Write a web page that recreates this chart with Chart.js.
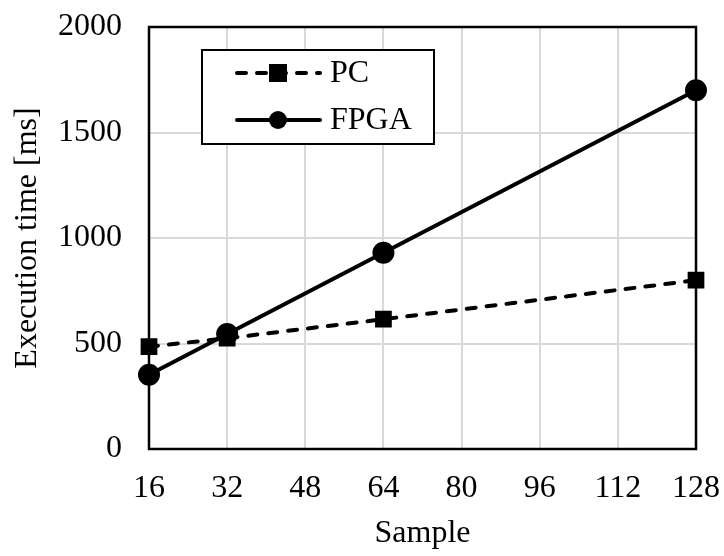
<!DOCTYPE html>
<html>
<head>
<meta charset="utf-8">
<script src="https://cdn.jsdelivr.net/npm/chart.js@4"></script>
<style>
  html, body { margin: 0; padding: 0; background: #fff; }
  #wrap { width: 724px; height: 556px; }
</style>
</head>
<body>
<div id="wrap"><canvas id="myChart" width="724" height="556"></canvas></div>
<script>
const samples = [16, 32, 64, 128];
const pcTimes = [485, 525, 615, 800];
const fpgaTimes = [352, 545, 930, 1700];
const xTicks = [16, 32, 48, 64, 80, 96, 112, 128];
const yTicks = [0, 500, 1000, 1500, 2000];

const FONT = "'Liberation Serif', 'Times New Roman', serif";
const FONT_SIZE = 32;

const toPoints = (xs, ys) => xs.map((x, i) => ({ x, y: ys[i] }));

// frame around the plot area (top and right sides included)
const frame = {
  id: "frame",
  afterDatasetsDraw(chart) {
    const { ctx, chartArea: a } = chart;
    ctx.save();
    ctx.strokeStyle = "#000";
    ctx.lineWidth = 2.5;
    ctx.strokeRect(a.left, a.top, a.right - a.left, a.bottom - a.top);
    ctx.restore();
  },
};

// boxed legend with line + marker samples
const boxLegend = {
  id: "boxLegend",
  afterDraw(chart) {
    const { ctx } = chart;
    const box = { x: 202, y: 50, w: 232, h: 94 };
    ctx.save();
    ctx.fillStyle = "#fff";
    ctx.fillRect(box.x, box.y, box.w, box.h);
    ctx.strokeStyle = "#000";
    ctx.lineWidth = 2;
    ctx.strokeRect(box.x, box.y, box.w, box.h);

    chart.data.datasets.forEach((ds, i) => {
      const y = 73 + i * 47;
      const x0 = 237, x1 = 320, mx = 278;
      ctx.strokeStyle = "#000";
      ctx.lineWidth = ds.borderWidth;
      ctx.lineCap = ds.borderCapStyle || "butt";
      ctx.setLineDash(ds.borderDash || []);
      ctx.beginPath();
      ctx.moveTo(x0, y);
      ctx.lineTo(x1, y);
      ctx.stroke();
      ctx.setLineDash([]);
      ctx.fillStyle = "#000";
      const r = ds.pointRadius;
      if (ds.pointStyle === "rect") {
        ctx.fillRect(mx - r, y - r, 2 * r, 2 * r);
      } else {
        ctx.beginPath();
        ctx.arc(mx, y, r, 0, Math.PI * 2);
        ctx.fill();
      }
      ctx.font = `${FONT_SIZE}px ${FONT}`;
      ctx.textBaseline = "middle";
      ctx.textAlign = "left";
      ctx.fillText(ds.label, 330, y + 1);
    });
    ctx.restore();
  },
};

const config = {
  type: "line",
  data: {
    datasets: [
      {
        label: "PC",
        data: toPoints(samples, pcTimes),
        borderColor: "#000",
        backgroundColor: "#000",
        borderWidth: 4,
        borderDash: [9, 11],
        borderCapStyle: "round",
        pointStyle: "rect",
        pointRadius: 9,
        pointHoverRadius: 9,
        clip: false,
      },
      {
        label: "FPGA",
        data: toPoints(samples, fpgaTimes),
        borderColor: "#000",
        backgroundColor: "#000",
        borderWidth: 4,
        borderCapStyle: "round",
        pointStyle: "circle",
        pointRadius: 9,
        pointHoverRadius: 9,
        clip: false,
      },
    ],
  },
  options: {
    responsive: false,
    animation: false,
    events: [],
    layout: { padding: { top: 27, right: 28, left: 0, bottom: 0 } },
    plugins: { legend: { display: false }, tooltip: { enabled: false } },
    scales: {
      x: {
        type: "linear",
        min: 16,
        max: 128,
        afterBuildTicks(scale) {
          scale.ticks = xTicks.map((v) => ({ value: v }));
        },
        afterFit(scale) {
          scale.height = 107;
          scale.paddingLeft = 0;
          scale.paddingRight = 0;
        },
        grid: { color: "#d9d9d9", lineWidth: 2, drawTicks: false },
        border: { display: false },
        ticks: {
          color: "#000",
          font: { family: FONT, size: FONT_SIZE },
          padding: 20,
          maxRotation: 0,
          callback: (v) => String(v),
        },
        title: {
          display: true,
          text: "Sample",
          color: "#000",
          font: { family: FONT, size: FONT_SIZE },
          padding: { top: 0, bottom: 3 },
        },
      },
      y: {
        min: 0,
        max: 2000,
        afterBuildTicks(scale) {
          scale.ticks = yTicks.map((v) => ({ value: v }));
        },
        afterFit(scale) {
          scale.width = 149;
          scale.paddingTop = 0;
          scale.paddingBottom = 0;
        },
        grid: { color: "#d9d9d9", lineWidth: 2, drawTicks: false },
        border: { display: false },
        ticks: {
          color: "#000",
          font: { family: FONT, size: FONT_SIZE },
          padding: 27,
          callback: (v) => String(v),
        },
        title: {
          display: true,
          text: "Execution time [ms]",
          color: "#000",
          font: { family: FONT, size: FONT_SIZE },
          padding: { top: 8, bottom: 0 },
        },
      },
    },
  },
  plugins: [frame, boxLegend],
};

new Chart(document.getElementById("myChart"), config);
</script>
</body>
</html>
